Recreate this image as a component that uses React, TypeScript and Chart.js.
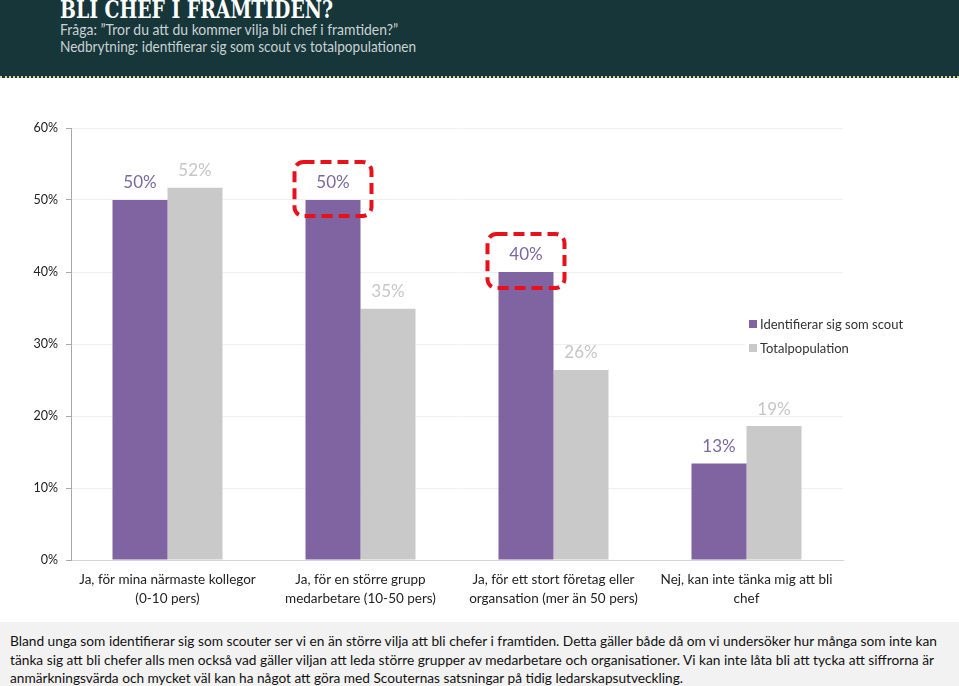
import React, { useEffect, useLayoutEffect, useRef } from "react";
import { Chart, registerables } from "chart.js";

Chart.register(...registerables);

// ---------- data ----------
const categories: string[][] = [
  ["Ja, för mina närmaste kollegor", "(0-10 pers)"],
  ["Ja, för en större grupp", "medarbetare (10-50 pers)"],
  ["Ja, för ett stort företag eller", "organsation (mer än 50 pers)"],
  ["Nej, kan inte tänka mig att bli", "chef"],
];
const seriesNames = ["Identifierar sig som scout", "Totalpopulation"];
const scoutValues = [50, 50, 40, 13.4];
const totalValues = [51.7, 34.9, 26.4, 18.6];
const highlightedScoutBars = [1, 2];
const yMax = 60;
const yStep = 10;

const titleText = "BLI CHEF I FRAMTIDEN?";
const subtitleLines = [
  "Fråga: \u201DTror du att du kommer vilja bli chef i framtiden?\u201D",
  "Nedbrytning: identifierar sig som scout vs totalpopulationen",
];
const footerLines = [
  "Bland unga som identifierar sig som scouter ser vi en än större vilja att bli chefer i framtiden. Detta gäller både då om vi undersöker hur många som inte kan",
  "tänka sig att bli chefer alls men också vad gäller viljan att leda större grupper av medarbetare och organisationer. Vi kan inte låta bli att tycka att siffrorna är",
  "anmärkningsvärda och mycket väl kan ha något att göra med Scouternas satsningar på tidig ledarskapsutveckling.",
];

// ---------- styles ----------
const PURPLE = "#8064a2";
const GREY = "#c9c9c9";
const HEADER_BG = "#17363a";
const FONT = "Lato, 'Open Sans', sans-serif";
const CANVAS_TOP = 78;

function FitText(props: {
  text: string;
  left: number;
  top: number;
  width: number;
  fontSize: number;
  color: string;
  font: string;
  weight?: string | number;
}) {
  const ref = useRef<HTMLSpanElement>(null);
  useLayoutEffect(() => {
    const el = ref.current;
    if (!el) return;
    const fit = () => {
      el.style.transform = "none";
      const w = el.getBoundingClientRect().width;
      if (w > 0) el.style.transform = `scaleX(${props.width / w})`;
    };
    fit();
    if ((document as any).fonts && (document as any).fonts.ready) {
      (document as any).fonts.ready.then(fit);
    }
  }, [props.text, props.width]);
  return (
    <span
      ref={ref}
      style={{
        position: "absolute",
        left: props.left,
        top: props.top,
        whiteSpace: "nowrap",
        fontFamily: props.font,
        fontSize: props.fontSize,
        fontWeight: props.weight ?? 400,
        color: props.color,
        lineHeight: 1,
        transformOrigin: "0 0",
        display: "inline-block",
      }}
    >
      {props.text}
    </span>
  );
}

function BarChart() {
  const canvasRef = useRef<HTMLCanvasElement>(null);
  useEffect(() => {
    const canvas = canvasRef.current;
    if (!canvas) return;

    const overlay = {
      id: "overlay",
      afterDatasetsDraw(chart: any) {
        const ctx = chart.ctx;
        ctx.save();
        // legend (white box hides grid behind it)
        const lx = 749;
        const ly = [324 - CANVAS_TOP, 348 - CANVAS_TOP];
        ctx.fillStyle = "#ffffff";
        ctx.fillRect(745, 312 - CANVAS_TOP, 170, 48);
        ctx.font = `13px ${FONT}`;
        ctx.textAlign = "left";
        ctx.textBaseline = "middle";
        chart.data.datasets.forEach((ds: any, i: number) => {
          ctx.fillStyle = ds.backgroundColor;
          ctx.fillRect(lx, ly[i] - 4, 8, 8);
          ctx.fillStyle = "#333333";
          ctx.fillText(ds.label, lx + 11, ly[i] + 1);
        });
        // value labels
        ctx.font = `17px ${FONT}`;
        ctx.textAlign = "center";
        ctx.textBaseline = "middle";
        chart.data.datasets.forEach((ds: any, i: number) => {
          const meta = chart.getDatasetMeta(i);
          ctx.fillStyle = i === 0 ? "#7a68a0" : "#c6c6c6";
          meta.data.forEach((bar: any, j: number) => {
            const v = ds.data[j];
            ctx.fillText(`${Math.round(v)}%`, bar.x, bar.y - 17);
          });
        });
        // red dashed frames
        const meta0 = chart.getDatasetMeta(0);
        ctx.strokeStyle = "#e8101a";
        ctx.lineWidth = 4;
        ctx.setLineDash([11, 6]);
        highlightedScoutBars.forEach((j) => {
          const bar = meta0.data[j];
          const x0 = bar.x - 38.5;
          const y0 = bar.y - 38;
          ctx.beginPath();
          (ctx as any).roundRect(x0, y0, 77, 54, 9);
          ctx.stroke();
        });
        ctx.setLineDash([]);
        ctx.restore();
      },
    };

    const chart = new Chart(canvas, {
      type: "bar",
      data: {
        labels: categories,
        datasets: [
          {
            label: seriesNames[0],
            data: scoutValues,
            backgroundColor: PURPLE,
            categoryPercentage: 0.57,
            barPercentage: 1,
          },
          {
            label: seriesNames[1],
            data: totalValues,
            backgroundColor: GREY,
            categoryPercentage: 0.57,
            barPercentage: 1,
          },
        ],
      },
      options: {
        animation: false,
        responsive: false,
        maintainAspectRatio: false,
        layout: { padding: { top: 50, right: 116, left: 0, bottom: 0 } },
        plugins: {
          legend: { display: false },
          tooltip: { enabled: false },
        },
        scales: {
          x: {
            grid: { display: false },
            border: { display: true, color: "#d4d4d4", width: 1 },
            ticks: {
              color: "#222222",
              font: { family: FONT, size: 13.5, lineHeight: 1.35 },
              padding: 3,
              maxRotation: 0,
              autoSkip: false,
            },
            afterFit(scale: any) {
              scale.height = 60;
            },
          },
          y: {
            min: 0,
            max: yMax,
            ticks: {
              stepSize: yStep,
              color: "#222222",
              font: { family: FONT, size: 12.5 },
              padding: 8,
              callback: (v: any) => `${v}%`,
            },
            grid: {
              color: "#f0f0f0",
              tickColor: "#a8a8a8",
              tickLength: 5,
              drawTicks: true,
            },
            border: { display: true, color: "#a8a8a8", width: 1 },
            afterFit(scale: any) {
              scale.width = 71;
            },
          },
        },
      },
      plugins: [overlay],
    });
    return () => chart.destroy();
  }, []);
  return (
    <canvas
      ref={canvasRef}
      width={959}
      height={542}
      style={{ position: "absolute", left: 0, top: CANVAS_TOP, width: 959, height: 542 }}
    />
  );
}

export default function App() {
  return (
    <div
      style={{
        position: "fixed",
        left: 0,
        top: 0,
        width: 959,
        height: 686,
        background: "#ffffff",
        overflow: "hidden",
      }}
    >
      <div
        style={{
          position: "absolute",
          left: 0,
          top: 0,
          width: 959,
          height: 76,
          background: HEADER_BG,
          borderBottom: "2px dotted #d9d6a0",
        }}
      />
      <FitText
        text={titleText}
        left={60}
        top={-2}
        width={273}
        fontSize={24}
        color="#ffffff"
        font="'DejaVu Serif', serif"
        weight={700}
      />
      {subtitleLines.map((t, i) => (
        <FitText
          key={i}
          text={t}
          left={60}
          top={22 + i * 17}
          width={i === 0 ? 338 : 356}
          fontSize={15}
          color="#c9d2d2"
          font={FONT}
        />
      ))}
      <BarChart />
      <div
        style={{
          position: "absolute",
          left: 0,
          top: 622,
          width: 959,
          height: 64,
          background: "#f2f2f2",
        }}
      />
      {footerLines.map((t, i) => (
        <FitText
          key={i}
          text={t}
          left={10}
          top={634 + i * 18.5}
          width={[927, 924, 673][i]}
          fontSize={14}
          color="#111111"
          font={FONT}
        />
      ))}
    </div>
  );
}
